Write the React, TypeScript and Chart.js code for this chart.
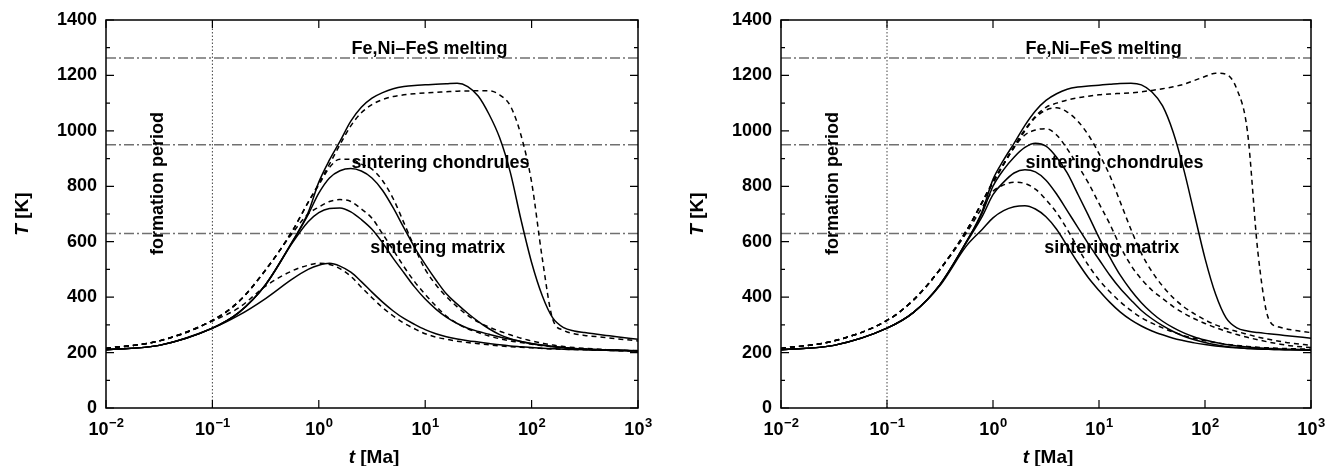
import React, { useEffect, useRef } from 'react';
import { Chart, registerables } from 'chart.js';

Chart.register(...registerables);

// time grid (Ma), log-spaced samples
const tGrid = [0.01, 0.0316, 0.1, 0.178, 0.316, 0.562, 0.794, 1, 1.26, 1.58, 2.0, 2.51, 3.16, 3.98, 5.01, 6.31, 7.94, 10, 12.6, 15.8, 20.0, 25.1, 31.6, 39.8, 50.1, 63.1, 79.4, 100, 126, 158, 200, 251, 316, 398, 501, 631, 1000];

// ---- left panel ----
const leftSolid1 = [210, 226, 288, 345, 445, 600, 705, 815, 895, 962, 1035, 1085, 1118, 1138, 1152, 1160, 1164, 1166, 1168, 1170, 1172, 1160, 1125, 1060, 975, 850, 680, 525, 405, 325, 290, 278, 272, 267, 262, 257, 248];
const leftSolid2 = [210, 226, 288, 345, 445, 598, 698, 775, 830, 856, 864, 855, 830, 785, 722, 650, 580, 518, 462, 412, 375, 342, 312, 286, 265, 250, 240, 232, 226, 221, 217, 214, 212, 210, 209, 208, 206];
const leftSolid3 = [210, 226, 288, 345, 445, 595, 672, 705, 720, 722, 708, 680, 645, 596, 540, 488, 437, 393, 357, 328, 305, 288, 276, 266, 256, 248, 240, 233, 227, 222, 218, 215, 213, 211, 210, 209, 206];
const leftSolid4 = [210, 226, 288, 335, 395, 465, 500, 515, 522, 512, 490, 456, 418, 382, 350, 323, 302, 283, 268, 257, 249, 243, 238, 233, 228, 224, 221, 218, 216, 214, 212, 211, 210, 209, 208, 207, 206];
const leftDashed1 = [215, 242, 316, 385, 498, 638, 742, 810, 880, 950, 1018, 1065, 1095, 1113, 1124, 1130, 1134, 1137, 1139, 1141, 1143, 1144, 1145, 1145, 1130, 1090, 985, 815, 540, 320, 280, 268, 262, 258, 254, 250, 242];
const leftDashed2 = [215, 242, 316, 385, 498, 638, 742, 805, 868, 898, 898, 880, 862, 820, 755, 668, 580, 500, 445, 402, 365, 334, 310, 292, 277, 264, 252, 242, 234, 227, 222, 218, 215, 213, 211, 209, 207];
const leftDashed3 = [215, 242, 316, 385, 498, 630, 700, 725, 745, 752, 745, 718, 685, 628, 570, 510, 456, 410, 368, 332, 305, 286, 272, 260, 250, 242, 236, 230, 225, 221, 218, 215, 213, 211, 210, 208, 206];
const leftDashed4 = [215, 242, 314, 362, 440, 495, 515, 522, 518, 503, 475, 436, 398, 362, 332, 306, 286, 268, 256, 248, 241, 236, 232, 228, 224, 221, 219, 217, 215, 213, 212, 211, 210, 209, 208, 207, 206];

// ---- right panel ----
const rightSolid1 = [210, 226, 288, 345, 445, 600, 712, 825, 895, 955, 1020, 1072, 1110, 1134, 1150, 1158, 1162, 1165, 1168, 1171, 1172, 1166, 1140, 1090, 995, 860, 700, 540, 410, 325, 289, 278, 272, 268, 264, 260, 252];
const rightSolid2 = [210, 226, 288, 345, 445, 600, 705, 800, 860, 905, 940, 955, 945, 905, 848, 772, 695, 615, 545, 480, 425, 380, 343, 313, 290, 271, 256, 245, 236, 229, 224, 220, 217, 215, 213, 212, 210];
const rightSolid3 = [210, 226, 288, 345, 445, 598, 692, 770, 815, 848, 860, 852, 822, 772, 712, 652, 592, 536, 480, 432, 390, 352, 322, 297, 276, 259, 246, 236, 228, 222, 218, 215, 213, 212, 211, 210, 208];
const rightSolid4 = [210, 226, 288, 345, 442, 585, 645, 686, 712, 726, 730, 718, 690, 645, 585, 525, 470, 424, 382, 347, 318, 296, 278, 264, 252, 243, 235, 229, 224, 220, 217, 215, 213, 212, 211, 210, 208];
const rightDashed1 = [215, 242, 316, 390, 500, 640, 745, 818, 882, 945, 1005, 1052, 1085, 1100, 1111, 1119, 1125, 1130, 1133, 1135, 1137, 1141, 1146, 1152, 1159, 1168, 1182, 1196, 1208, 1204, 1150, 1000, 560, 322, 292, 283, 272];
const rightDashed2 = [215, 242, 316, 390, 500, 640, 745, 816, 880, 940, 1000, 1048, 1075, 1083, 1068, 1035, 985, 918, 840, 745, 645, 558, 492, 440, 398, 365, 340, 318, 300, 287, 276, 266, 256, 248, 241, 235, 226];
const rightDashed3 = [215, 242, 316, 390, 500, 640, 742, 812, 878, 940, 985, 1003, 1008, 985, 935, 875, 812, 738, 665, 585, 515, 465, 425, 395, 366, 342, 322, 305, 290, 277, 265, 255, 246, 238, 231, 225, 218];
const rightDashed4 = [215, 242, 316, 390, 500, 632, 725, 782, 805, 815, 810, 790, 752, 705, 645, 578, 515, 462, 420, 384, 352, 326, 306, 289, 274, 261, 251, 243, 236, 230, 226, 222, 219, 217, 215, 214, 212];

// reference levels
const meltingT = 1263;
const chondrulesT = 950;
const matrixT = 630;
const formationEnd = 0.1;

// axes
const tMin = 0.01;
const tMax = 1000;
const TMin = 0;
const TMax = 1400;
const xTickValues = [0.01, 0.1, 1, 10, 100, 1000];
const xTickExponents = ['\u22122', '\u22121', '0', '1', '2', '3'];
const yTickStep = 100;
const yMajorStep = 200;

// annotations (anchor in data coordinates)
const noteTexts = ['Fe,Ni\u2013FeS melting', 'sintering chondrules', 'sintering matrix', 'formation period'];
const noteTimes = [2.03, 2.03, 3.05, 0.0345];
const noteTemps = [1278, 867, 558, 552];
const noteRotated = [false, false, false, true];

const FONT = '"Liberation Sans", Arial, Helvetica, sans-serif';

type Panel = {
  solid: number[][];
  dashed: number[][];
  yAxisWidth: number;
  rightPad: number;
};

const panels: Panel[] = [
  { solid: [leftSolid1, leftSolid2, leftSolid3, leftSolid4], dashed: [leftDashed1, leftDashed2, leftDashed3, leftDashed4], yAxisWidth: 106, rightPad: 26 },
  { solid: [rightSolid1, rightSolid2, rightSolid3, rightSolid4], dashed: [rightDashed1, rightDashed2, rightDashed3, rightDashed4], yAxisWidth: 117, rightPad: 17 },
];

const decorPlugin = {
  id: 'decor',
  afterDraw(chart: any) {
    const { ctx, chartArea: a, scales } = chart;
    const xs = scales.x;
    const ys = scales.y;
    ctx.save();
    ctx.setLineDash([]);
    ctx.strokeStyle = '#000';
    ctx.lineWidth = 1.5;
    ctx.strokeRect(a.left, a.top, a.right - a.left, a.bottom - a.top);
    ctx.lineWidth = 1.2;
    ctx.beginPath();
    ys.ticks.forEach((tk: any) => {
      const y = ys.getPixelForValue(tk.value);
      const len = tk.value % yMajorStep === 0 ? 8 : 4;
      ctx.moveTo(a.left, y);
      ctx.lineTo(a.left + len, y);
      ctx.moveTo(a.right, y);
      ctx.lineTo(a.right - len, y);
    });
    xs.ticks.forEach((tk: any) => {
      const x = xs.getPixelForValue(tk.value);
      ctx.moveTo(x, a.bottom);
      ctx.lineTo(x, a.bottom - 8);
      ctx.moveTo(x, a.top);
      ctx.lineTo(x, a.top + 8);
    });
    ctx.stroke();

    ctx.fillStyle = '#000';
    ctx.textBaseline = 'alphabetic';
    ctx.textAlign = 'left';

    // x tick labels: 10 with raised exponent
    const fBase = `bold 18px ${FONT}`;
    const fExp = `bold 13px ${FONT}`;
    xTickValues.forEach((v, i) => {
      const x = xs.getPixelForValue(v);
      ctx.font = fBase;
      const wb = ctx.measureText('10').width;
      ctx.font = fExp;
      const we = ctx.measureText(xTickExponents[i]).width;
      const x0 = x - (wb + we) / 2;
      const base = a.bottom + 27;
      ctx.font = fBase;
      ctx.fillText('10', x0, base);
      ctx.font = fExp;
      ctx.fillText(xTickExponents[i], x0 + wb + 0.5, base - 8);
    });

    // annotations
    ctx.font = `bold 18px ${FONT}`;
    noteTexts.forEach((txt, i) => {
      const x = xs.getPixelForValue(noteTimes[i]);
      const y = ys.getPixelForValue(noteTemps[i]);
      if (noteRotated[i]) {
        ctx.save();
        ctx.translate(x, y);
        ctx.rotate(-Math.PI / 2);
        ctx.fillText(txt, 0, 0);
        ctx.restore();
      } else {
        ctx.fillText(txt, x, y);
      }
    });

    // axis titles with italic symbol
    const fi = `italic bold 19px ${FONT}`;
    const fb = `bold 19px ${FONT}`;
    const drawTitle = (sym: string, rest: string) => {
      ctx.font = fi;
      const w1 = ctx.measureText(sym).width;
      ctx.font = fb;
      const w2 = ctx.measureText(rest).width;
      const x0 = -(w1 + w2) / 2;
      ctx.font = fi;
      ctx.fillText(sym, x0, 0);
      ctx.font = fb;
      ctx.fillText(rest, x0 + w1, 0);
    };
    ctx.save();
    ctx.translate(a.left - 78, (a.top + a.bottom) / 2);
    ctx.rotate(-Math.PI / 2);
    drawTitle('T', ' [K]');
    ctx.restore();
    ctx.save();
    ctx.translate((a.left + a.right) / 2 + 2, 463);
    drawTitle('t', ' [Ma]');
    ctx.restore();
    ctx.restore();
  },
};

function buildConfig(panel: Panel): any {
  const toPts = (arr: number[]) => tGrid.map((t, i) => ({ x: t, y: arr[i] }));
  const datasets: any[] = [];
  panel.solid.forEach((arr) =>
    datasets.push({ data: toPts(arr), borderColor: '#000', borderWidth: 1.5, borderDash: [], pointRadius: 0, cubicInterpolationMode: 'monotone', fill: false })
  );
  panel.dashed.forEach((arr) =>
    datasets.push({ data: toPts(arr), borderColor: '#000', borderWidth: 1.5, borderDash: [5, 4], pointRadius: 0, cubicInterpolationMode: 'monotone', fill: false })
  );
  [meltingT, chondrulesT, matrixT].forEach((T) =>
    datasets.push({ data: [{ x: tMin, y: T }, { x: tMax, y: T }], borderColor: '#707070', borderWidth: 1.5, borderDash: [10, 3, 2, 3], pointRadius: 0, fill: false })
  );
  datasets.push({ data: [{ x: formationEnd, y: TMin }, { x: formationEnd, y: TMax }], borderColor: '#444', borderWidth: 1, borderDash: [1.5, 2], pointRadius: 0, fill: false });

  return {
    type: 'line',
    data: { datasets },
    options: {
      animation: false,
      responsive: false,
      events: [],
      layout: { padding: { left: 0, right: panel.rightPad, top: 20, bottom: 0 } },
      plugins: { legend: { display: false }, tooltip: { enabled: false } },
      scales: {
        x: {
          type: 'logarithmic',
          min: tMin,
          max: tMax,
          grid: { display: false, drawTicks: false },
          border: { display: false },
          afterBuildTicks: (scale: any) => {
            scale.ticks = xTickValues.map((v) => ({ value: v }));
          },
          afterFit: (scale: any) => {
            scale.height = 58;
          },
          ticks: { display: false, autoSkip: false, maxRotation: 0 },
        },
        y: {
          type: 'linear',
          min: TMin,
          max: TMax,
          grid: { display: false, drawTicks: false },
          border: { display: false },
          afterFit: (scale: any) => {
            scale.width = panel.yAxisWidth;
          },
          ticks: {
            stepSize: yTickStep,
            autoSkip: false,
            padding: 9,
            color: '#000',
            font: { family: FONT, size: 18, weight: 'bold' },
            callback: (value: number) => (value % yMajorStep === 0 ? String(value) : ''),
          },
        },
      },
    },
    plugins: [decorPlugin],
  };
}

function PanelChart({ panel, left }: { panel: Panel; left: number }) {
  const ref = useRef<HTMLCanvasElement | null>(null);
  useEffect(() => {
    if (!ref.current) return;
    const chart = new Chart(ref.current, buildConfig(panel));
    return () => chart.destroy();
  }, [panel]);
  return (
    <div style={{ position: 'absolute', left, top: 0, width: 664, height: 466 }}>
      <canvas ref={ref} width={664} height={466} style={{ width: 664, height: 466, display: 'block' }} />
    </div>
  );
}

export default function App() {
  return (
    <div style={{ position: 'fixed', left: 0, top: 0, width: 1328, height: 466, background: '#fff', overflow: 'hidden' }}>
      <PanelChart panel={panels[0]} left={0} />
      <PanelChart panel={panels[1]} left={664} />
    </div>
  );
}
